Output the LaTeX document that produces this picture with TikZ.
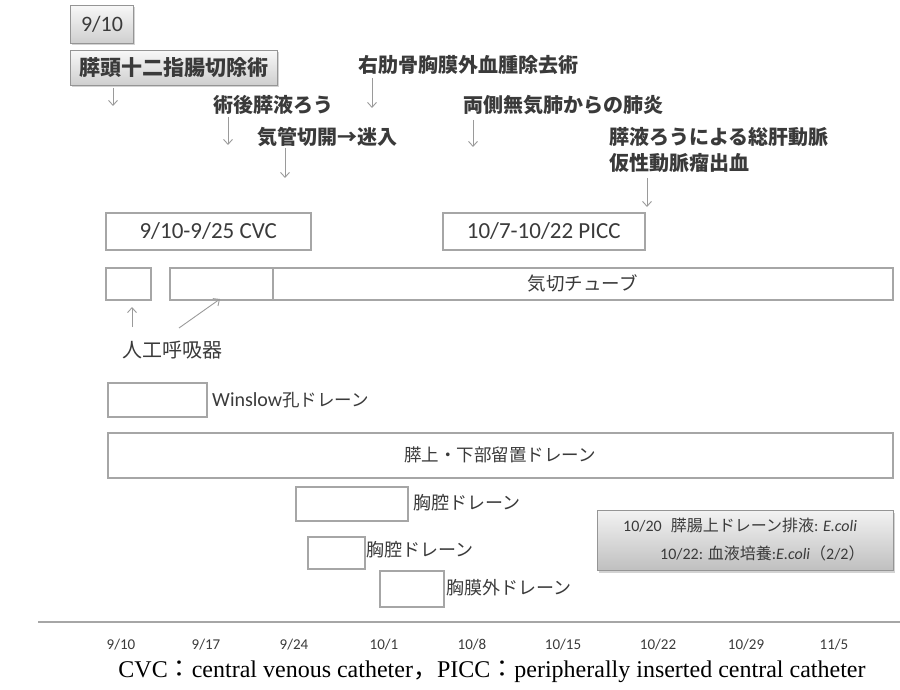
\documentclass[tikz,border=0pt]{standalone}
\usepackage{fontspec}
\setmainfont{Carlito}
\newfontfamily\cjk{Noto Sans CJK JP}
\newfontfamily\capserif{Liberation Serif}
\usetikzlibrary{arrows.meta,shadows}
\definecolor{boxgray}{HTML}{A6A6A6}
\definecolor{txt}{HTML}{3A3A3A}
\definecolor{arrgray}{HTML}{9A9A9A}
\newcommand\myfs[1]{\fontsize{#1}{#1}\selectfont}
\begin{document}
\begin{tikzpicture}[x=1pt,y=-1pt,
  bar/.style={draw=boxgray, line width=1.5pt, fill=white, inner sep=0pt, anchor=north west, text=txt},
  hdr/.style={draw=boxgray!90!black, line width=1pt, top color=gray!6, bottom color=gray!38, drop shadow={opacity=0.35,shadow xshift=1.5pt,shadow yshift=-2pt}, inner sep=0pt, anchor=north west, text=txt},
  lbl/.style={anchor=west, inner sep=0pt, text=txt},
  ann/.style={anchor=west, inner sep=0pt, text=txt, font=\cjk\bfseries\myfs{20}},
  arr/.style={draw=arrgray, line width=0.9pt, -{Straight Barb[length=5pt,width=9pt]}},
  tick/.style={anchor=center, inner sep=0pt, text=txt, font=\myfs{15}},
]
\useasboundingbox (0,0) rectangle (900,690);

% header boxes
\node[hdr, minimum width=63pt, minimum height=38pt, font=\myfs{22}] (date) at (70,5) {9/10};
\node[hdr, minimum width=207pt, minimum height=35pt, font=\cjk\bfseries\myfs{21}] (op) at (70,50) {膵頭十二指腸切除術};

% annotations
\node[ann] (t1) at (213,105) {術後膵液ろう};
\node[ann] (t2) at (257,137) {気管切開→迷入};
\node[ann] (t3) at (358,65) {右肋骨胸膜外血腫除去術};
\node[ann] (t4) at (463,105) {両側無気肺からの肺炎};
\node[ann] (t5) at (609,137) {膵液ろうによる総肝動脈};
\node[ann] (t6) at (609,163) {仮性動脈瘤出血};

% arrows
\coordinate (a1s) at (113,88);  \coordinate (a1e) at (113,106);
\coordinate (a2s) at (228,117); \coordinate (a2e) at (228,145);
\coordinate (a3s) at (285,148); \coordinate (a3e) at (285,178);
\coordinate (a4s) at (372,78);  \coordinate (a4e) at (372,108);
\coordinate (a5s) at (473,120); \coordinate (a5e) at (473,147);
\coordinate (a6s) at (647,178); \coordinate (a6e) at (647,207);
\draw[arr] (a1s) -- (a1e);
\draw[arr] (a2s) -- (a2e);
\draw[arr] (a3s) -- (a3e);
\draw[arr] (a4s) -- (a4e);
\draw[arr] (a5s) -- (a5e);
\draw[arr] (a6s) -- (a6e);

% catheters
\node[bar, minimum width=205pt, minimum height=37pt, font=\myfs{23}] (cvc) at (105,212) {9/10-9/25 CVC};
\node[bar, minimum width=202pt, minimum height=37pt, font=\myfs{23}] (picc) at (442,212) {10/7-10/22 PICC};

% ventilation / tube
\node[bar, minimum width=45pt, minimum height=32pt] (v1) at (105,267) {};
\node[bar, minimum width=103pt, minimum height=32pt] (v2) at (169,267) {};
\node[bar, minimum width=620pt, minimum height=32pt, font=\cjk\myfs{18.5}] (tube) at (272,267) {気切チューブ};
\node[lbl, font=\cjk\myfs{20}] (vent) at (122,350) {人工呼吸器};
\coordinate (u1s) at (132,327); \coordinate (u1e) at (132,307);
\coordinate (u2s) at (179,328); \coordinate (u2e) at (220,299);
\draw[arr] (u1s) -- (u1e);
\draw[arr] (u2s) -- (u2e);

% drains
\node[bar, minimum width=99pt, minimum height=34pt] (win) at (107,382) {};
\node[lbl, font=\myfs{20}] (winl) at (212,400) {Winslow{\cjk\myfs{17.5}孔ドレーン}};
\node[bar, minimum width=785pt, minimum height=45pt, font=\cjk\myfs{17.5}] (pan) at (107,432) {膵上・下部留置ドレーン};
\node[bar, minimum width=112pt, minimum height=34pt] (ch1) at (295,486) {};
\node[lbl, font=\cjk\myfs{18}] (ch1l) at (413,503) {胸腔ドレーン};
\node[bar, minimum width=57pt, minimum height=32pt] (ch2) at (307,536) {};
\node[lbl, font=\cjk\myfs{18}] (ch2l) at (366,550) {胸腔ドレーン};
\node[bar, minimum width=64pt, minimum height=36pt] (ex) at (379,570) {};
\node[lbl, font=\cjk\myfs{18}] (exl) at (446,588) {胸膜外ドレーン};

% culture box
\node[hdr, top color=gray!10, bottom color=gray!50, minimum width=296pt, minimum height=60pt] (ecoli) at (597,510) {};
\node[lbl, font=\myfs{16}] (ec1) at (623,525) {10/20\hspace{9pt}{\cjk 膵腸上ドレーン排液}: \textit{E.coli}};
\node[lbl, font=\myfs{16}] (ec2) at (660,553) {10/22: {\cjk 血液培養}:\textit{E.coli}{\cjk （}2/2{\cjk ）}};

% axis
\coordinate (ax1) at (38,622); \coordinate (ax2) at (900,622);
\draw[boxgray, line width=1.2pt] (ax1) -- (ax2);
\node[tick] (d1) at (121,645) {9/10};
\node[tick] (d2) at (206,645) {9/17};
\node[tick] (d3) at (294,645) {9/24};
\node[tick] (d4) at (384,645) {10/1};
\node[tick] (d5) at (472,645) {10/8};
\node[tick] (d6) at (563,645) {10/15};
\node[tick] (d7) at (658,645) {10/22};
\node[tick] (d8) at (746,645) {10/29};
\node[tick] (d9) at (834,645) {11/5};

\node[anchor=center, inner sep=0pt, text=black, font=\capserif\myfs{24}] (cap) at (492,672) {CVC{\cjk ：}central venous catheter{\cjk ，}PICC{\cjk ：}peripherally inserted central catheter};
\end{tikzpicture}
\end{document}
